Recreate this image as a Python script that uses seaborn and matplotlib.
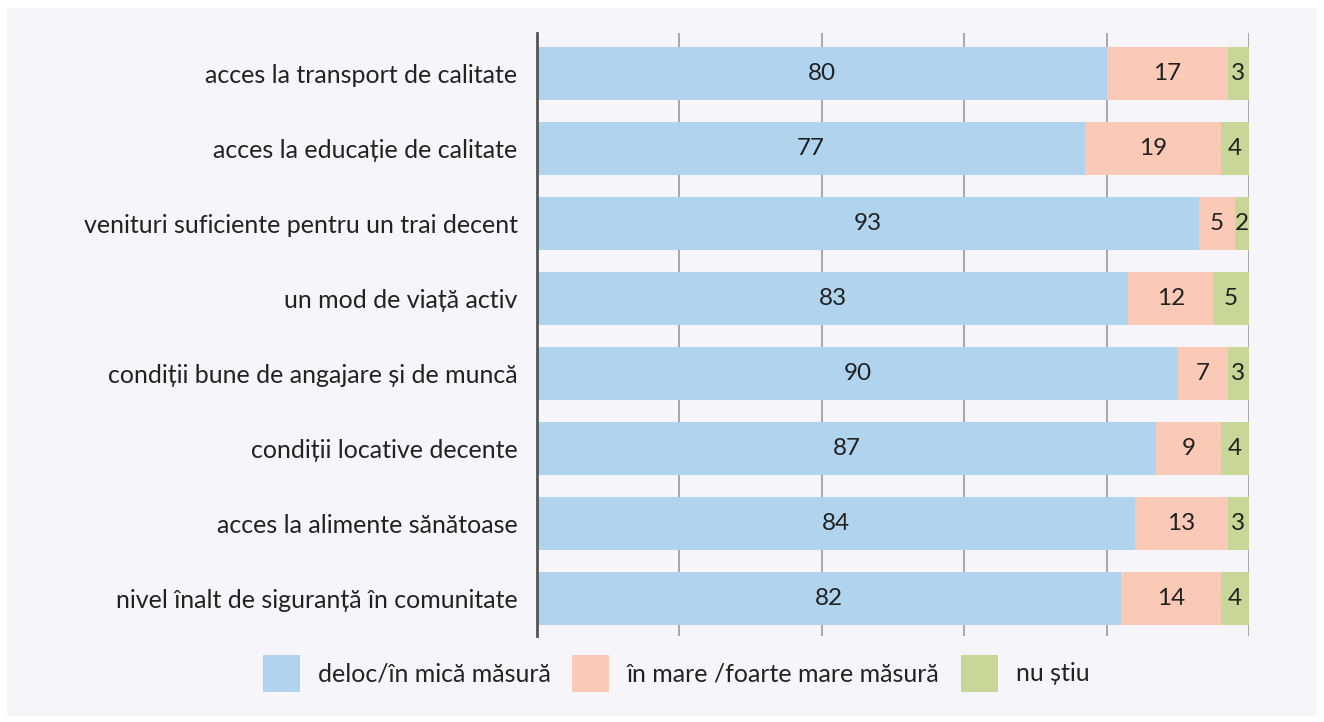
import matplotlib
matplotlib.use("Agg")
import matplotlib.pyplot as plt
import matplotlib.patches as mpatches
import seaborn as sns
import pandas as pd

# Date
categorii = [
    "acces la transport de calitate",
    "acces la educație de calitate",
    "venituri suficiente pentru un trai decent",
    "un mod de viață activ",
    "condiții bune de angajare și de muncă",
    "condiții locative decente",
    "acces la alimente sănătoase",
    "nivel înalt de siguranță în comunitate",
]
deloc = [80, 77, 93, 83, 90, 87, 84, 82]
mare = [17, 19, 5, 12, 7, 9, 13, 14]
nu_stiu = [3, 4, 2, 5, 3, 4, 3, 4]

serii = ["deloc/în mică măsură", "în mare /foarte mare măsură", "nu știu"]
culori = ["#b0d3ee", "#facab7", "#c7d797"]

df = pd.DataFrame({"categorie": categorii, "deloc": deloc, "mare": mare, "nu_stiu": nu_stiu})
df["cum_mare"] = df["deloc"] + df["mare"]
df["total"] = df["cum_mare"] + df["nu_stiu"]

sns.set_style("white")
plt.rcParams["font.family"] = ["Lato", "DejaVu Sans"]

fig = plt.figure(figsize=(13.24, 7.22), dpi=100)
fig.patch.set_facecolor("white")
fig.patches.append(mpatches.Rectangle((7 / 1324, 6 / 722), 1310 / 1324, 708 / 722,
                                      transform=fig.transFigure, facecolor="#f6f6fa",
                                      edgecolor="none", zorder=-10))
ax = fig.add_axes([537 / 1324, 1 - 636 / 722, 712 / 1324, 603 / 722])
ax.set_facecolor("none")

# barele stivuite: intai totalul, apoi suma partiala, apoi prima serie
sns.barplot(data=df, x="total", y="categorie", color=culori[2], width=0.7,
            saturation=1, linewidth=0, ax=ax, zorder=3)
sns.barplot(data=df, x="cum_mare", y="categorie", color=culori[1], width=0.7,
            saturation=1, linewidth=0, ax=ax, zorder=3)
sns.barplot(data=df, x="deloc", y="categorie", color=culori[0], width=0.7,
            saturation=1, linewidth=0, ax=ax, zorder=3)

# etichete de valori
for i in range(len(categorii)):
    starts = [0, deloc[i], deloc[i] + mare[i]]
    vals = [deloc[i], mare[i], nu_stiu[i]]
    for s, v in zip(starts, vals):
        ax.text(s + v / 2, i, str(v), ha="center", va="center",
                fontsize=17.5, color="#222222", zorder=5)

ax.set_xlim(0, 100)
ax.set_ylim(7.5, -0.54)
ax.set_xticks(range(0, 101, 20))
ax.set_xticklabels([])
ax.tick_params(axis="x", length=0)
ax.tick_params(axis="y", length=0, pad=14, labelsize=18, labelcolor="#222222")
ax.grid(axis="x", color="#9a9a9a", linewidth=1.2, zorder=0)
ax.set_axisbelow(True)
ax.set_xlabel("")
ax.set_ylabel("")
for side in ["top", "right", "bottom"]:
    ax.spines[side].set_visible(False)
ax.spines["left"].set_color("#555555")
ax.spines["left"].set_linewidth(2)
ax.spines["left"].set_zorder(6)

handles = [mpatches.Patch(facecolor=c, edgecolor="none") for c in culori]
fig.legend(handles, serii, loc="center", bbox_to_anchor=(676 / 1324, 1 - 673 / 722),
           ncol=3, frameon=False, fontsize=18, handlelength=1.5, handleheight=1.9,
           handletextpad=0.7, columnspacing=0.85, labelcolor="#222222")

plt.savefig("out.png", dpi=100, facecolor=fig.get_facecolor())
plt.close()
